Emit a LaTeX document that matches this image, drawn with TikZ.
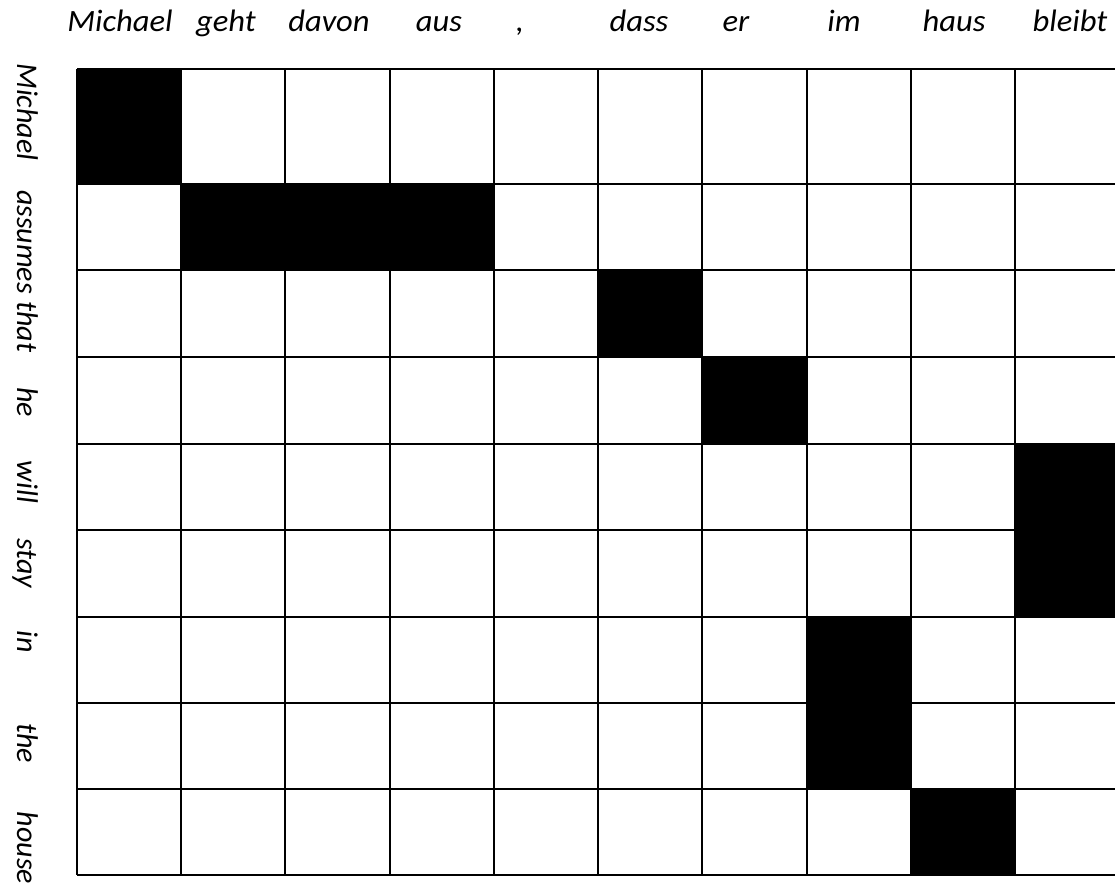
\documentclass[tikz,border=0pt]{standalone}
\usepackage{fontspec}
\setmainfont{Carlito}
\begin{document}
\begin{tikzpicture}[x=1pt,y=-1pt,
  gridline/.style={line width=2.2pt,black},
  cellfill/.style={fill=black},
  toplabel/.style={font=\fontsize{31}{36}\selectfont\itshape,anchor=base,inner sep=0pt,xscale=1.05},
  sidelabel/.style={font=\fontsize{30}{36}\selectfont\itshape,anchor=base,inner sep=0pt,rotate=-90}]
\useasboundingbox[fill=white] (0,0) rectangle (1115,885);
% black cells
\fill[cellfill] (77,69) rectangle (181,184);
\fill[cellfill] (181,184) rectangle (494,270);
\fill[cellfill] (598,270) rectangle (702,357);
\fill[cellfill] (702,357) rectangle (807,444);
\fill[cellfill] (1015,444) rectangle (1115,617);
\fill[cellfill] (807,617) rectangle (911,789);
\fill[cellfill] (911,789) rectangle (1015,875);
% grid
\foreach \x in {77,181,285,390,494,598,702,807,911,1015}
  \draw[gridline] (\x,69) -- (\x,875);
\foreach \y in {69,184,270,357,444,530,617,703,789,875}
  \draw[gridline] (77,\y) -- (1115,\y);
% top labels
\node[toplabel] (t1) at (120,32) {Michael};
\node[toplabel] (t2) at (226,32) {geht};
\node[toplabel] (t3) at (329,32) {davon};
\node[toplabel] (t4) at (439,32) {aus};
\node[toplabel] (t5) at (520,32) {,};
\node[toplabel] (t6) at (639,32) {dass};
\node[toplabel] (t7) at (736,32) {er};
\node[toplabel] (t8) at (844,32) {im};
\node[toplabel] (t9) at (954,32) {haus};
\node[toplabel] (t10) at (1070,32) {bleibt};
% side labels
\node[sidelabel] (s1) at (17,112) {Michael};
\node[sidelabel] (s2) at (17,242) {assumes};
\node[sidelabel] (s3) at (17,327) {that};
\node[sidelabel] (s4) at (17,402) {he};
\node[sidelabel] (s5) at (17,482) {will};
\node[sidelabel] (s6) at (17,563) {stay};
\node[sidelabel] (s7) at (17,642) {in};
\node[sidelabel] (s8) at (17,743) {the};
\node[sidelabel] (s9) at (17,848) {house};
\end{tikzpicture}
\end{document}
